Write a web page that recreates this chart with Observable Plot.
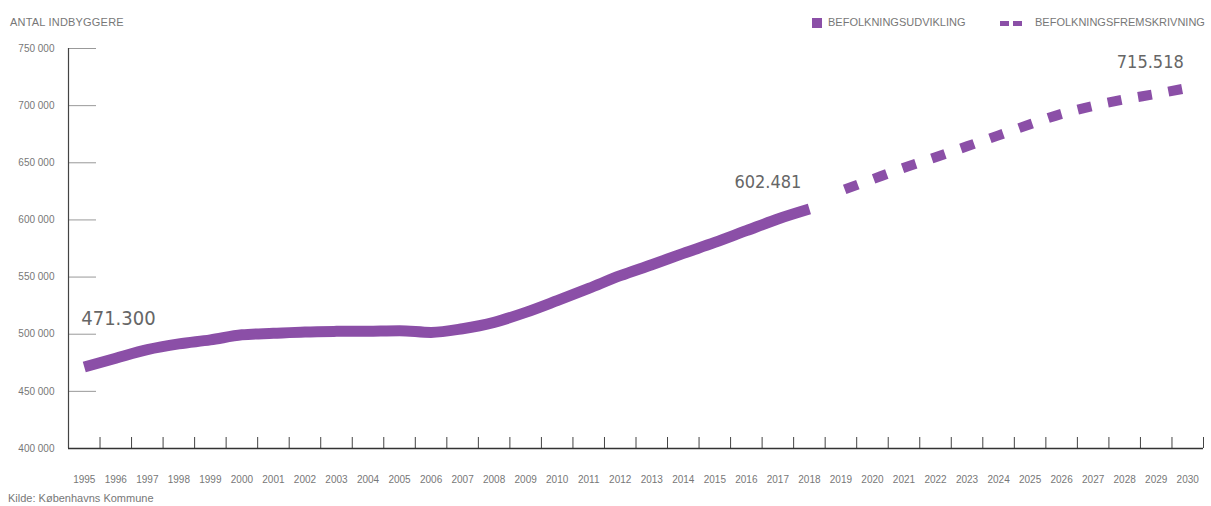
<!DOCTYPE html>
<html>
<head>
<meta charset="utf-8">
<script src="https://cdn.jsdelivr.net/npm/d3@7"></script>
<script src="https://cdn.jsdelivr.net/npm/@observablehq/plot@0.6"></script>
<style>
  html, body { margin: 0; padding: 0; background: #fff; }
  #wrap { width: 1211px; height: 506px; position: relative; overflow: hidden; font-family: "Liberation Sans", Arial, sans-serif; }
  #header { position: relative; height: 34px; }
  #title { position: absolute; left: 10px; top: 16px; font-size: 11px; line-height: 13px; color: #777; letter-spacing: 0.2px; }
  .leg { position: absolute; top: 16px; font-size: 11px; line-height: 13px; color: #777; white-space: nowrap; }
  .sw { position: absolute; }
  #caption { position: absolute; left: 8px; top: 490px; font-size: 11px; line-height: 16px; color: #777; }
  svg { display: block; }
</style>
</head>
<body>
<div id="wrap">
  <div id="header">
    <div id="title">ANTAL INDBYGGERE</div>
    <div class="sw" id="sw1" style="left:812px; top:18px; width:10px; height:10px;"></div>
    <div class="leg" style="left:828px;">BEFOLKNINGSUDVIKLING</div>
    <div class="sw" id="sw2a" style="left:1000px; top:21px; width:9px; height:5px;"></div>
    <div class="sw" id="sw2b" style="left:1013px; top:21px; width:9px; height:5px;"></div>
    <div class="leg" style="left:1035px;">BEFOLKNINGSFREMSKRIVNING</div>
  </div>
  <div id="chart"></div>
  <div id="caption">Kilde: Københavns Kommune</div>
</div>
<script>
// ---- data ----
const histYears = [1995,1996,1997,1998,1999,2000,2001,2002,2003,2004,2005,2006,2007,2008,2009,2010,2011,2012,2013,2014,2015,2016,2017,2018];
const histValues = [471300,479000,486500,491500,495000,499500,500800,502000,502500,502700,503100,501600,504800,510400,519100,529400,540100,551200,560800,570700,580300,590600,600800,609500];
const projYears = [2019,2020,2021,2022,2023,2024,2025,2026,2027,2028,2029,2030];
const projValues = [625500,635600,645600,654800,664400,674000,683700,692800,699800,705500,710300,715518];
const axisYears = [1995,1996,1997,1998,1999,2000,2001,2002,2003,2004,2005,2006,2007,2008,2009,2010,2011,2012,2013,2014,2015,2016,2017,2018,2019,2020,2021,2022,2023,2024,2025,2026,2027,2028,2029,2030];
const yTicks = [400000,450000,500000,550000,600000,650000,700000,750000];
const yTickLabels = ["400 000","450 000","500 000","550 000","600 000","650 000","700 000","750 000"];
const labelYears = [1995, 2018, 2030];
const labelValues = [471300, 609500, 715518];
const labelTexts = ["471.300", "602.481", "715.518"];

const purple = "#8b4fa7";
document.getElementById("sw1").style.background = purple;
document.getElementById("sw2a").style.background = purple;
document.getElementById("sw2b").style.background = purple;

const hist = histYears.map((y, i) => ({year: y, value: histValues[i]}));
const proj = projYears.map((y, i) => ({year: y, value: projValues[i]}));
const boundaries = axisYears.map(y => y + 0.5);
const labels = labelYears.map((y, i) => ({year: y, value: labelValues[i], text: labelTexts[i]}));

const W = 1211, H = 456, mT = 14, mB = 42, mL = 68, mR = 8;
const innerW = W - mL - mR, innerH = H - mT - mB;
const labelFont = "'Liberation Sans Narrow', 'DejaVu Sans Condensed', 'Liberation Sans', sans-serif";

const chart = Plot.plot({
  width: W, height: H,
  marginTop: mT, marginBottom: mB, marginLeft: mL, marginRight: mR,
  style: {fontFamily: "'Liberation Sans', Arial, sans-serif", fontSize: "10px", background: "#fff"},
  x: {type: "linear", domain: [1994.5, 2030.5], label: null},
  y: {domain: [400000, 750000], label: null},
  marks: [
    Plot.axisY({ticks: yTicks, tickSize: 0, tickPadding: 14, tickFormat: (d, i) => yTickLabels[i], fill: "#777", fontSize: 10, label: null}),
    Plot.axisX({ticks: axisYears, tickSize: 0, tickPadding: 27, tickFormat: d => String(d), fill: "#777", fontSize: 10, label: null}),
    Plot.tickY(yTicks, {y: d => d, stroke: "#999", strokeWidth: 1, insetRight: innerW - 28}),
    Plot.tickX(boundaries, {x: d => d, stroke: "#444", strokeWidth: 1, insetTop: innerH - 11}),
    Plot.ruleX([1994.5], {stroke: "#444", strokeWidth: 1.2}),
    Plot.ruleY([400000], {stroke: "#333", strokeWidth: 1.5}),
    Plot.line(hist, {x: "year", y: "value", stroke: purple, strokeWidth: 11, curve: "monotone-x", strokeLinecap: "butt"}),
    Plot.line(proj, {x: "year", y: "value", stroke: purple, strokeWidth: 10, curve: "monotone-x", strokeDasharray: "14,16.8", strokeDashoffset: 26.8, strokeLinecap: "butt"}),
    Plot.text(labels.slice(0,1), {x: "year", y: "value", text: "text", textAnchor: "start", lineAnchor: "bottom", dx: -3, dy: -42, fontSize: 20, fill: "#666", fontFamily: labelFont}),
    Plot.text(labels.slice(1,2), {x: "year", y: "value", text: "text", textAnchor: "end", lineAnchor: "bottom", dx: -8, dy: -21, fontSize: 18, fill: "#666", fontFamily: labelFont}),
    Plot.text(labels.slice(2,3), {x: "year", y: "value", text: "text", textAnchor: "end", lineAnchor: "bottom", dx: -4, dy: -20, fontSize: 18, fill: "#666", fontFamily: labelFont})
  ]
});
document.getElementById("chart").appendChild(chart);
</script>
</body>
</html>
